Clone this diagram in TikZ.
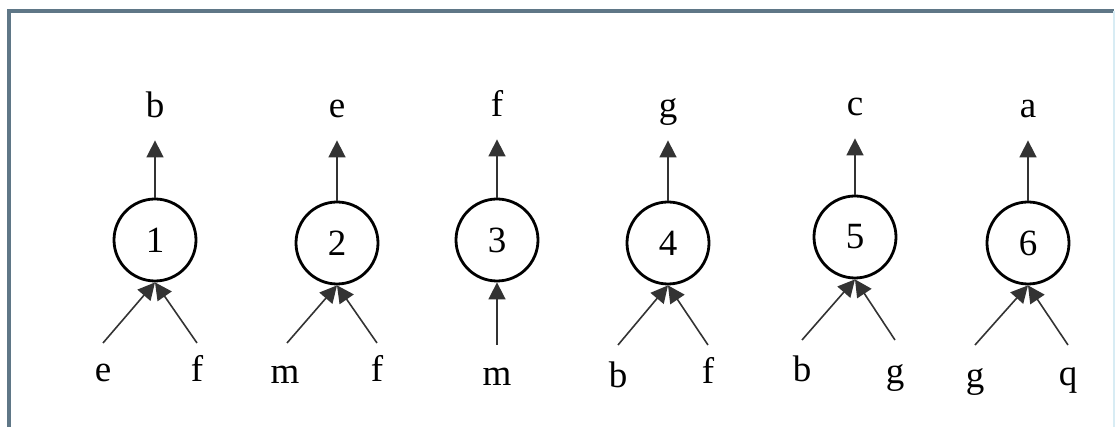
\documentclass[tikz,border=0pt]{standalone}
\usepackage{fontspec}
\setmainfont{Liberation Serif}
\usetikzlibrary{arrows.meta}
\definecolor{framecol}{HTML}{5F7787}
\definecolor{frameedge}{HTML}{D8ECF4}
\begin{document}
\begin{tikzpicture}[x=0.5pt, y=-0.5pt,
    every node/.style={font=\fontsize{18.5}{22}\selectfont, inner sep=0pt},
    proc/.style={circle, draw, line width=1.4pt, minimum size=41pt},
    lbl/.style={anchor=base, text depth=0pt},
    flow/.style={draw=black!80, line width=0.8pt, -{Triangle[length=8.5pt, width=8.5pt]}}]
    \useasboundingbox (0,0) rectangle (1116,427);
    \draw[framecol, line width=1.8pt] (9,427) -- (9,11) -- (1114,11);
    \draw[frameedge, line width=1pt] (1114,11) -- (1114,427);

    % processes
    \node[proc] (n1) at (155,240) {1};
    \node[proc] (n2) at (337,243) {2};
    \node[proc] (n3) at (497,240) {3};
    \node[proc] (n4) at (668,243) {4};
    \node[proc] (n5) at (855,237) {5};
    \node[proc] (n6) at (1028,243) {6};

    % outputs
    \node[lbl] (o1) at (155,118) {b};
    \node[lbl] (o2) at (337,118) {e};
    \node[lbl] (o3) at (497,117) {f};
    \node[lbl] (o4) at (668,118) {g};
    \node[lbl] (o5) at (855,116) {c};
    \node[lbl] (o6) at (1028,118) {a};
    \foreach \i in {1,...,6}
        \draw[flow] (n\i.north) -- ([yshift=-11] o\i.south);

    % inputs
    \node[lbl] (a1) at (103,382) {e};   \node[lbl] (b1) at (197,382) {f};
    \node[lbl] (a2) at (285,384) {m};   \node[lbl] (b2) at (377,382) {f};
    \node[lbl] (a3) at (497,386) {m};
    \node[lbl] (a4) at (618,388) {b};   \node[lbl] (b4) at (708,384) {f};
    \node[lbl] (a5) at (802,382) {b};   \node[lbl] (b5) at (895,384) {g};
    \node[lbl] (a6) at (975,388) {g};   \node[lbl] (b6) at (1068,386) {q};

    \coordinate (ta1) at (103,343);  \coordinate (tb1) at (197,343);
    \coordinate (ta2) at (287,343);  \coordinate (tb2) at (377,343);
    \coordinate (ta3) at (497,345);
    \coordinate (ta4) at (618,345);  \coordinate (tb4) at (708,345);
    \coordinate (ta5) at (802,340);  \coordinate (tb5) at (895,340);
    \coordinate (ta6) at (975,345);  \coordinate (tb6) at (1068,345);

    \foreach \i in {1,2,4,5,6} {
        \draw[flow] (ta\i) -- (n\i.south);
        \draw[flow] (tb\i) -- (n\i.south);
    }
    \draw[flow] (ta3) -- (n3.south);
\end{tikzpicture}
\end{document}
